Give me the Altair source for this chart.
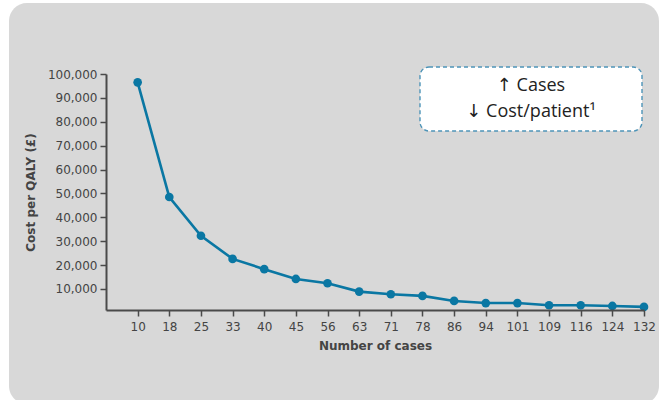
import json
import altair as alt
import pandas as pd

cases = ["10", "18", "25", "33", "40", "45", "56", "63", "71", "78",
         "86", "94", "101", "109", "116", "124", "132"]
cost = [96500, 48500, 32300, 22600, 18300, 14200, 12400, 8900, 7800, 7100,
        5000, 4100, 4100, 3200, 3200, 2900, 2500]
y_ticks = [10000, 20000, 30000, 40000, 50000, 60000, 70000, 80000, 90000, 100000]
note_lines = ["↑ Cases", "↓ Cost/patient¹"]

df = pd.DataFrame({"idx": list(range(1, len(cases) + 1)), "case": cases, "cost": cost})

LINE = "#0a77a3"
AXC = "#4a4a4a"
FONT = "DejaVu Sans"

label_expr = json.dumps(cases) + "[datum.value - 1]"

x_enc = alt.X(
    "idx:Q",
    scale=alt.Scale(domain=[0, len(cases)], nice=False, zero=False),
    axis=alt.Axis(
        values=list(range(1, len(cases) + 1)), labelExpr=label_expr,
        labelOverlap=False, labelFlush=False, labelBound=False,
        title="Number of cases", grid=False, zindex=1,
        domainColor=AXC, domainWidth=2, tickColor=AXC, tickWidth=1.5, tickSize=6,
        labelFont=FONT, labelFontSize=12, labelColor="#444", labelPadding=5,
        titleFont=FONT, titleFontSize=12, titleFontWeight="bold", titleColor="#444",
        titlePadding=8,
    ),
)
y_enc = alt.Y(
    "cost:Q",
    scale=alt.Scale(domain=[1200, 100000], nice=False, zero=False),
    axis=alt.Axis(
        values=y_ticks, format=",.0f", title="Cost per QALY (£)", grid=False, zindex=1,
        labelOverlap=False, labelFlush=False,
        domainColor=AXC, domainWidth=2, tickColor=AXC, tickWidth=1.5, tickSize=6,
        labelFont=FONT, labelFontSize=12, labelColor="#444", labelPadding=3,
        titleFont=FONT, titleFontSize=12, titleFontWeight="bold", titleColor="#444",
        titlePadding=10,
    ),
)

one = pd.DataFrame({"a": [0]})

panel = alt.Chart(one).mark_rect(color="#d8d8d8", cornerRadius=18).encode(
    x=alt.value(-97), x2=alt.value(553), y=alt.value(-71), y2=alt.value(330)
)

line = alt.Chart(df).mark_line(color=LINE, strokeWidth=2.6).encode(x=x_enc, y=y_enc)
pts = alt.Chart(df).mark_circle(color=LINE, size=75, opacity=1).encode(x=x_enc, y=y_enc)

box = alt.Chart(one).mark_rect(
    fill="white", stroke="#4d94b8", strokeWidth=1.4, strokeDash=[4, 3], cornerRadius=9
).encode(x=alt.value(314), x2=alt.value(536), y=alt.value(-7), y2=alt.value(57))

note_text = alt.Chart(one).mark_text(
    font="Open Sans, DejaVu Sans", fontSize=18, color="#222",
    align="center", baseline="middle", lineHeight=26,
).encode(text=alt.value(note_lines), x=alt.value(425), y=alt.value(12))

chart = alt.layer(panel, line, pts, box, note_text).properties(
    width=538, height=236,
    autosize=alt.AutoSizeParams(type="none"),
    padding={"left": 106, "top": 74, "right": 22, "bottom": 90},
    background="white",
).configure_view(stroke=None)

chart.save("out.html", embed_options={"renderer": "svg", "actions": False})
